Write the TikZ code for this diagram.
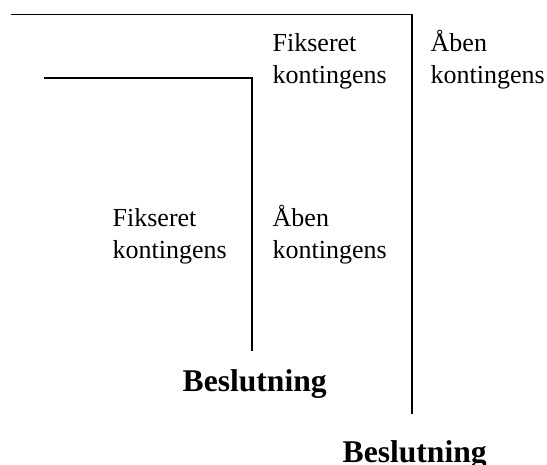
\documentclass[tikz,border=0pt]{standalone}
\usepackage{fontspec}
\setmainfont{Liberation Serif}
\begin{document}
\begin{tikzpicture}[x=1pt,y=-1pt,
  rule/.style={line width=1.8pt, line cap=butt, line join=miter},
  label/.style={anchor=base west, inner sep=0pt, align=left, font=\fontsize{26}{31.8}\selectfont},
  decision/.style={anchor=base west, inner sep=0pt, font=\fontsize{31.6}{36}\selectfont\bfseries}]
\useasboundingbox (0,0) rectangle (547,464);
\clip (0,0) rectangle (547,464);
% outer frame
\coordinate (o1) at (11,14.5);
\coordinate (o2) at (412,14.5);
\coordinate (o3) at (412,414);
\draw[rule] (o1) -- (o2) -- (o3);
% inner frame
\coordinate (i1) at (43.5,78);
\coordinate (i2) at (252,78);
\coordinate (i3) at (252,350.5);
\draw[rule] (i1) -- (i2) -- (i3);
% labels (base anchor = baseline of last line)
\node[label] (tf) at (272.5,83.3) {Fikseret\\kontingens};
\node[label] (ta) at (430.5,83.3) {Åben\\kontingens};
\node[label] (bf) at (112.5,258.3) {Fikseret\\kontingens};
\node[label] (ba) at (272.5,258.3) {Åben\\kontingens};
\node[decision] (d1) at (182.5,391.5) {Beslutning};
\node[decision] (d2) at (342.5,462.5) {Beslutning};
\end{tikzpicture}
\end{document}
